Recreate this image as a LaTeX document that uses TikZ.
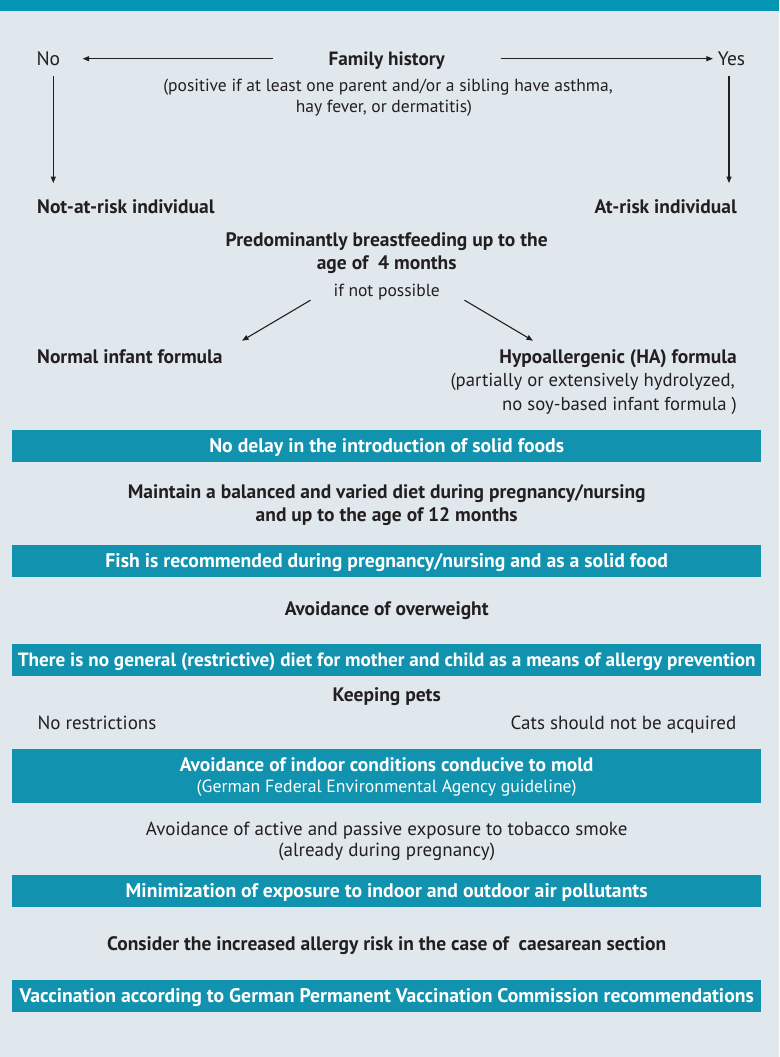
\documentclass[tikz,border=0pt]{standalone}
\usepackage{fontspec}
\setmainfont{PT Sans}
\usetikzlibrary{arrows.meta,calc}
\definecolor{bg}{HTML}{E1E8ED}
\definecolor{tealc}{HTML}{1192AE}
\definecolor{topbar}{HTML}{0596B5}
\definecolor{ink}{HTML}{231F20}
\begin{document}
\begin{tikzpicture}[x=1pt,y=-1pt,
  txt/.style={inner sep=0pt, anchor=base, text=ink, font=\fontsize{19}{22}\selectfont},
  btxt/.style={txt, font=\fontsize{19.5}{22}\selectfont\bfseries},
  notetxt/.style={txt, font=\fontsize{17.5}{20}\selectfont},
  capfix/.style={text height=14pt, text depth=0pt},
  tealbox/.style={fill=tealc, inner sep=0pt, minimum width=748.6pt, minimum height=32pt, anchor=center, text=white, font=\fontsize{19.7}{22}\selectfont\bfseries, text height=13.6pt, text depth=1pt},
  boxline/.style={inner sep=0pt, anchor=base, text=white},
  arr/.style={draw=ink, line width=1.1pt, -{Triangle[length=6.5pt,width=5pt]}}
]
\fill[bg] (0,0) rectangle (779,1057);
\fill[topbar] (0,0) rectangle (779,11);
\useasboundingbox (0,0) rectangle (779,1057);

% family history
\node[btxt, capfix, font=\fontsize{19.2}{22}\selectfont\bfseries] (fh) at (386.7,65.7) {Family history};
\node[txt, capfix, font=\fontsize{19.5}{22}\selectfont] (no) at (48.3,65.7) {No};
\node[txt, capfix, font=\fontsize{19.5}{22}\selectfont] (yes) at (731.5,65.7) {Yes};
\node[notetxt] (fh1) at (388,92) {(positive if at least one parent and/or a sibling have asthma,};
\node[notetxt] (fh2) at (384,112.5) {hay fever, or dermatitis)};

\draw[arr, shorten <=55.6pt, shorten >=22.3pt] (fh.west) -- (no.east);
\draw[arr, shorten <=55.7pt, shorten >=4.7pt] (fh.east) -- (yes.west);

\node[btxt, capfix, anchor=base west] (notrisk) at (37,213.3) {Not-at-risk individual};
\node[btxt, capfix, anchor=base east] (atrisk) at (737,213.3) {At-risk individual};

\draw[arr, shorten <=10.3pt, shorten >=16pt] ([xshift=5pt]no.south) -- ([xshift=5pt]no.south |- notrisk.north);
\draw[arr, shorten <=10.3pt, shorten >=16pt] ([xshift=-2.5pt]yes.south) -- ([xshift=-2.5pt]yes.south |- atrisk.north);

% breastfeeding
\node[btxt] (bf1) at (386.7,246.7) {Predominantly breastfeeding up to the};
\node[btxt] (bf2) at (386.7,269.3) {age of\ \ 4 months};
\node[notetxt, text depth=0pt] (ifnot) at (386.7,296.7) {if not possible};

\node[btxt, capfix, anchor=base west] (normal) at (37,363.3) {Normal infant formula};
\node[btxt, capfix, anchor=base east] (ha) at (737,363.3) {Hypoallergenic (HA) formula};
\node[txt, font=\fontsize{18.7}{22}\selectfont, anchor=base east] (ha1) at (735,386.7) {(partially or extensively hydrolyzed,};
\node[txt, font=\fontsize{18.7}{22}\selectfont, anchor=base east] (ha2) at (737,410.7) {no soy-based infant formula )};

\draw[arr] ($(ifnot.south)+(-76.2,3.3)$) -- ($(normal.north west)+(205,-8.4)$);
\draw[arr] ($(ifnot.south)+(77.8,3.3)$) -- ($(ha.north east)+(-204,-8.4)$);

% boxes and lines
\node[tealbox] (b1) at (386.7,446) {No delay in the introduction of solid foods};
\node[btxt] (diet1) at (386.7,498.3) {Maintain a balanced and varied diet during pregnancy/nursing};
\node[btxt] (diet2) at (386.7,521.7) {and up to the age of 12 months};
\node[tealbox] (b2) at (386.7,561) {Fish is recommended during pregnancy/nursing and as a solid food};
\node[btxt] (ow) at (386.7,615) {Avoidance of overweight};
\node[tealbox, font=\fontsize{19.2}{22}\selectfont\bfseries] (b3) at (386.7,660) {There is no general (restrictive) diet for mother and child as a means of allergy prevention};
\node[btxt] (pets) at (386.7,701.7) {Keeping pets};
\node[txt, anchor=base west] (norestr) at (37.3,729.3) {No restrictions};
\node[txt, anchor=base east] (cats) at (736.5,729.3) {Cats should not be acquired};
\node[tealbox, minimum height=54.3pt] (b4) at (386.7,776.2) {};
\node[boxline, font=\fontsize{19.5}{22}\selectfont\bfseries] (b4a) at (386.7,771.7) {Avoidance of indoor conditions conducive to mold};
\node[boxline, font=\fontsize{17.7}{20}\selectfont] (b4b) at (386.7,792.7) {(German Federal Environmental Agency guideline)};
\node[txt] (tob1) at (386.7,835) {Avoidance of active and passive exposure to tobacco smoke};
\node[txt] (tob2) at (386.7,856) {(already during pregnancy)};
\node[tealbox] (b5) at (386.7,891.2) {Minimization of exposure to indoor and outdoor air pollutants};
\node[btxt] (cs) at (386.7,950) {Consider the increased allergy risk in the case of\ \ caesarean section};
\node[tealbox] (b6) at (386.7,996.2) {Vaccination according to German Permanent Vaccination Commission recommendations};
\end{tikzpicture}
\end{document}
